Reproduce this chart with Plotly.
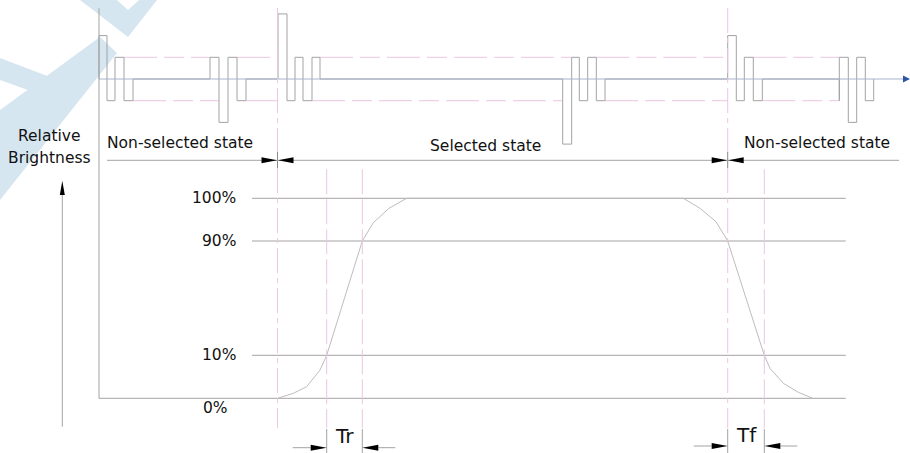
import plotly.graph_objects as go

# ---------------- data ----------------
# drive waveform: time (diagram units) and level (steps) after each edge
wave_t = [99, 99, 107, 115, 124, 133, 210, 219, 228, 237, 246, 278, 287, 295, 303, 312, 320,
          562.7, 571.7, 579.3, 587.7, 596.3, 605, 727.7, 736.3, 744.3, 753.3, 762.3,
          839.3, 839.3, 848.3, 856.7, 865.3, 873.7]
wave_level = [0, 2, -1, 1, -1, 0, 1, -2, 1, -1, 0, 3, -1, 1, -1, 1, 0,
              -3, 1, -1, 1, -1, 0, 2, -1, 1, -1, 0,
              -1, 1, -2, 1, -1, 0]
# reference (+1 / -1) level spans
ref_upper = [(124, 210), (237, 278), (320, 571.7), (596.3, 727.7), (753.3, 839.3)]
ref_lower = [(133, 219), (246, 278), (312, 562.7), (605, 727.7), (762.3, 839.3)]

# brightness response curve (diagram units)
bright_t = [277.7, 293.3, 306.7, 320, 326.7, 362.3, 373.3, 389, 406.7, 683.3,
            700, 716, 727.7, 764.3, 770, 783.3, 798.3, 812.7]
bright_y = [398.3, 393.3, 386.7, 370, 355.3, 241, 222.7, 208.3, 198.3, 198.3,
            208.3, 221.7, 241, 355.3, 368.3, 383.3, 392.3, 398.3]

level_labels = ["100%", "90%", "10%", "0%"]
level_y = [198.3, 241, 355.3, 398.3]

state_labels = ["Non-selected state", "Selected state", "Non-selected state"]
state_x = [180, 485, 817]
state_y = [143, 146, 143]

boundary_t = [277.5, 727.7]          # state boundaries
tr_t = [326.7, 362.3]                # rise time markers
tf_t = [727.7, 764.3]                # fall time markers

# ---------------- styling ----------------
GRAY = "#a3a3a3"
PINK = "#ecc6e2"
AXISB = "#a9b3cf"
TXT = "#111111"
FONT = "DejaVu Sans"

fig = go.Figure()

# waveform on its own level axis
STEP = 21.7
BASE = 79
y2range = [(BASE - 453) / STEP, BASE / STEP]

def seg_xy(spans, lvl):
    xs, ys = [], []
    for a, b in spans:
        xs += [a, b, None]
        ys += [lvl, lvl, None]
    return xs, ys

xu, yu = seg_xy(ref_upper, 1)
xl, yl = seg_xy(ref_lower, -1)
fig.add_trace(go.Scatter(x=xu + xl, y=yu + yl, mode="lines", yaxis="y2",
                         line=dict(color=PINK, width=1, dash="33px,7px,20px,7px"),
                         hoverinfo="skip", showlegend=False))
fig.add_trace(go.Scatter(x=wave_t, y=wave_level, mode="lines", yaxis="y2",
                         line=dict(color=GRAY, width=1, shape="hv"),
                         hoverinfo="skip", showlegend=False))
fig.add_trace(go.Scatter(x=[99, 905], y=[0, 0], mode="lines", yaxis="y2",
                         line=dict(color=AXISB, width=1), hoverinfo="skip", showlegend=False))

# brightness guide lines
gx, gy = [], []
for lab, yv in zip(level_labels, level_y):
    x0 = 99 if lab == "0%" else 252
    gx += [x0, 845.7, None]
    gy += [yv, yv, None]
fig.add_trace(go.Scatter(x=gx, y=gy, mode="lines", line=dict(color=GRAY, width=1),
                         hoverinfo="skip", showlegend=False))
fig.add_trace(go.Scatter(x=bright_t, y=bright_y, mode="lines",
                         line=dict(color="#bdbdbd", width=1),
                         hoverinfo="skip", showlegend=False))

shapes = []
# watermark
for p in ["M80,0 L128,37 L157,0 L139,0 L128,10 L117,0 Z",
          "M0,58 L50,77 L50,98 L0,80 Z",
          "M0,110 L100,37 L117,53 L0,200 Z"]:
    shapes.append(dict(type="path", path=p, fillcolor="#d6e6f1", line=dict(width=0),
                       layer="below", xref="x", yref="y"))

def vline(x, y0, y1, color, dash="solid", width=1):
    shapes.append(dict(type="line", x0=x, x1=x, y0=y0, y1=y1, xref="x", yref="y",
                       line=dict(color=color, width=width, dash=dash)))

def hline(y, x0, x1, color, width=1):
    shapes.append(dict(type="line", x0=x0, x1=x1, y0=y, y1=y, xref="x", yref="y",
                       line=dict(color=color, width=width)))

def tri(tipx, tipy, basex=None, basey=None, hw=3, color="black"):
    if basex is not None:
        p = f"M{tipx},{tipy} L{basex},{tipy-hw} L{basex},{tipy+hw} Z"
    else:
        p = f"M{tipx},{tipy} L{tipx-hw},{basey} L{tipx+hw},{basey} Z"
    shapes.append(dict(type="path", path=p, fillcolor=color, line=dict(width=0),
                       xref="x", yref="y"))

# left axis
vline(99, 8.3, 398.3, GRAY)
# state boundaries
for b in boundary_t:
    vline(b, 8, 428, PINK, dash="25px,5px,5px,5px")
    vline(b, 152, 168, "#8a8a8a")
# rise / fall markers
for t in [tr_t[0], tr_t[1], tf_t[1]]:
    vline(t, 169.3, 428, PINK, dash="25px,5px")
for t in tr_t + tf_t:
    vline(t, 429, 453, GRAY)
# state dimension line
hline(160.3, 107, 899, GRAY)
for b in boundary_t:
    tri(b - 0.5, 160.3, basex=b - 16)
    tri(b + 0.5, 160.3, basex=b + 16)
# Tr / Tf dimension arrows
for (a, c), yy in [(tr_t, 447.7), (tf_t, 446)]:
    hline(yy, a - 34, a - 16, GRAY)
    hline(yy, c + 16, c + 33, GRAY)
    tri(a, yy, basex=a - 16)
    tri(c, yy, basex=c + 16)
# blue arrow at end of waveform axis
tri(910, 79, basex=903, hw=3.5, color="#2c55a3")
# relative brightness arrow
vline(62.3, 195, 426.7, GRAY)
tri(62.3, 180.7, basey=195, hw=2.5)

ann = []
def text(x, y, s, size=15.5, xanchor="center"):
    ann.append(dict(x=x, y=y, xref="x", yref="y", text=s, showarrow=False,
                    xanchor=xanchor, yanchor="middle",
                    font=dict(family=FONT, size=size, color=TXT)))

text(49, 136, "Relative")
text(49, 158, "Brightness")
for s, x, y in zip(state_labels, state_x, state_y):
    text(x, y, s)
for lab, yv in zip(level_labels, level_y):
    if lab == "0%":
        text(215.5, 408, lab)
    else:
        text(237.5, yv, lab, xanchor="right")
text((tr_t[0] + tr_t[1]) / 2, 436, "Tr", size=20)
text((tf_t[0] + tf_t[1]) / 2, 435, "Tf", size=20)

fig.update_layout(
    width=910, height=453, margin=dict(l=0, r=0, t=0, b=0),
    paper_bgcolor="white", plot_bgcolor="white",
    xaxis=dict(range=[0, 910], visible=False, fixedrange=True),
    yaxis=dict(range=[453, 0], visible=False, fixedrange=True),
    yaxis2=dict(range=y2range, overlaying="y", visible=False, fixedrange=True),
    shapes=shapes, annotations=ann, showlegend=False,
)
fig.write_html("out.html", config={"displayModeBar": False},
               post_script="document.body.style.margin='0';document.body.style.overflow='hidden';")
